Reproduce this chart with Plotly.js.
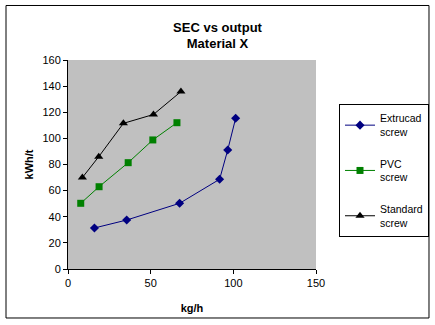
<!DOCTYPE html>
<html>
<head>
<meta charset="utf-8">
<script src="https://cdn.plot.ly/plotly-3.0.1.min.js"></script>
<style>html,body{margin:0;padding:0;background:#fff;}#chart{width:435px;height:325px;}</style>
</head>
<body>
<div id="chart"></div>
<script>
const extrucadX = [16, 35.5, 67.5, 91.7, 96.6, 101.4];
const extrucadY = [31.4, 37.5, 50.3, 68.7, 91.1, 115.4];
const pvcX = [7.7, 18.8, 36.4, 51.3, 65.9];
const pvcY = [50.3, 63, 81.4, 98.8, 112];
const standardX = [8.7, 18.6, 33.5, 51.7, 68.3];
const standardY = [70, 86, 111.5, 118.3, 135.8];
const seriesNames = ["Extrucad<br>screw", "PVC<br>screw", "Standard<br>screw"];
const xTicks = [0, 50, 100, 150];
const yTicks = [0, 20, 40, 60, 80, 100, 120, 140, 160];

const font = "Liberation Sans, Arial, sans-serif";
const traces = [
  {x: extrucadX, y: extrucadY, name: seriesNames[0], legendgroup: "a", mode: "lines+markers",
   line: {color: "#000080", width: 1}, marker: {symbol: "diamond", size: 7, color: "#000080"}},
  {x: pvcX, y: pvcY, name: seriesNames[1], legendgroup: "b", mode: "lines+markers",
   line: {color: "#008000", width: 1}, marker: {symbol: "square", size: 7, color: "#008000"}},
  {x: standardX, y: standardY, name: seriesNames[2], legendgroup: "c", mode: "lines+markers",
   line: {color: "#000000", width: 1}, marker: {symbol: "triangle-up", size: 8, color: "#000000"}}
];
const layout = {
  width: 435, height: 325,
  margin: {l: 68, r: 119, t: 60, b: 56, pad: 0, autoexpand: false},
  paper_bgcolor: "#ffffff", plot_bgcolor: "#c0c0c0",
  font: {family: font, size: 11, color: "#000"},
  title: {text: "<b>SEC vs output<br>Material X</b>", font: {family: font, size: 13, color: "#000"},
          x: 0.5, xref: "container", xanchor: "center", y: 0.903, yref: "container", yanchor: "middle"},
  xaxis: {range: [0, 150], tickvals: xTicks, ticks: "outside", ticklen: 4, tickcolor: "#000",
          showgrid: false, zeroline: false, showline: true, linecolor: "#000", linewidth: 1,
          tickfont: {family: font, size: 11, color: "#000"},
          title: {text: "<b>kg/h</b>", font: {family: font, size: 11, color: "#000"}, standoff: 16}},
  yaxis: {range: [0, 160], tickvals: yTicks, ticks: "outside", ticklen: 4, tickcolor: "#000",
          showgrid: false, zeroline: false, showline: true, linecolor: "#000", linewidth: 1,
          tickfont: {family: font, size: 11, color: "#000"},
          title: {text: "<b>kWh/t</b>", font: {family: font, size: 11, color: "#000"}, standoff: 6}},
  showlegend: true,
  legend: {x: 339 / 435, y: 1 - 104 / 325, xref: "container", yref: "container",
           xanchor: "left", yanchor: "top", bgcolor: "#fff",
           bordercolor: "#000", borderwidth: 1, font: {family: font, size: 10.5, color: "#000"},
           tracegroupgap: 15, itemwidth: 30},
  shapes: [
    {type: "rect", xref: "paper", yref: "paper", x0: -0.2500, x1: 1.4556, y0: -0.2344, y1: 1.2608,
     line: {color: "#000", width: 1}, fillcolor: "rgba(0,0,0,0)", layer: "below"}
  ]
};
Plotly.newPlot("chart", traces, layout, {displayModeBar: false, staticPlot: true});
</script>
</body>
</html>
